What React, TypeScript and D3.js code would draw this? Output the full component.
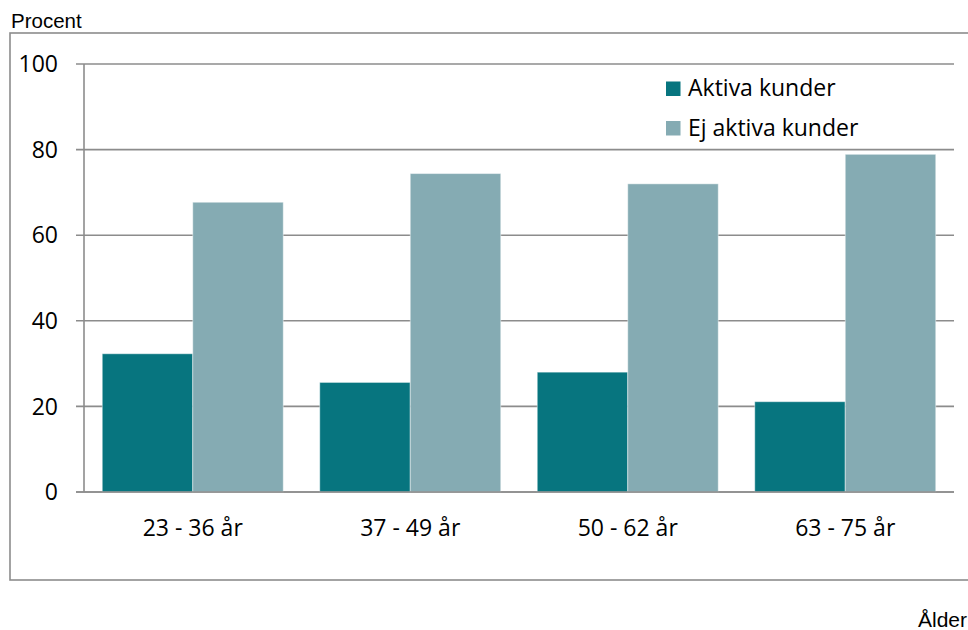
import React from "react";
import * as d3 from "d3";

const categories = ["23 - 36 år", "37 - 49 år", "50 - 62 år", "63 - 75 år"];
const seriesNames = ["Aktiva kunder", "Ej aktiva kunder"];
const aktiva = [32.3, 25.6, 28.0, 21.1];
const ejAktiva = [67.7, 74.4, 72.0, 78.9];
const yTicks = [0, 20, 40, 60, 80, 100];
const colors = ["#07757f", "#85abb3"];

export default function App() {
  const W = 968, H = 630;
  const left = 84, right = 954, top = 64, bottom = 492;
  const x = d3.scaleBand<string>().domain(categories).range([left, right]).paddingInner(0.1678).paddingOuter(0.0839);
  const xs = d3.scaleBand<string>().domain(seriesNames).range([0, x.bandwidth()]);
  const y = d3.scaleLinear().domain([0, 100]).range([bottom, top]);
  const series = [aktiva, ejAktiva];
  const grid = "#8c8c8c";
  const font = "'Open Sans', sans-serif";
  return (
    <svg width={W} height={H} style={{ position: "absolute", left: 0, top: 0, background: "#fff" }}>
      <rect x={10} y={33} width={1000} height={547} fill="none" stroke={grid} strokeWidth={1.6} />
      <text x={11} y={28} fontFamily="'Liberation Sans', Arial, sans-serif" fontSize={20.5} fill="#000">Procent</text>
      <text x={967} y={627} textAnchor="end" fontFamily="'Liberation Sans', Arial, sans-serif" fontSize={21} fill="#000">Ålder</text>
      {yTicks.map((t) => (
        <g key={t}>
          <line x1={76} x2={right} y1={y(t)} y2={y(t)} stroke={grid} strokeWidth={1.6} />
          <text x={58} y={y(t)} dy="0.36em" textAnchor="end" fontFamily={font} fontSize={23} fill="#000">{t}</text>
        </g>
      ))}
      <line x1={left} x2={left} y1={top} y2={bottom} stroke={grid} strokeWidth={1.6} />
      {categories.map((c, i) => (
        <g key={c}>
          {series.map((s, j) => (
            <rect key={j} x={(x(c) as number) + (xs(seriesNames[j]) as number)} y={y(s[i])} width={xs.bandwidth()} height={bottom - y(s[i])}
              fill={colors[j]} stroke="rgba(255,255,255,0.45)" strokeWidth={1} />
          ))}
          <text x={(x(c) as number) + x.bandwidth() / 2} y={536} textAnchor="middle" fontFamily={font} fontSize={23} fill="#000">{c}</text>
        </g>
      ))}
      <line x1={76} x2={right} y1={bottom} y2={bottom} stroke={grid} strokeWidth={1.6} />
      {seriesNames.map((n, j) => (
        <g key={n}>
          <rect x={666} y={81.5 + j * 39.5} width={14.5} height={14.5} fill={colors[j]} />
          <text x={688} y={96 + j * 40} fontFamily={font} fontSize={23} fill="#000">{n}</text>
        </g>
      ))}
    </svg>
  );
}
